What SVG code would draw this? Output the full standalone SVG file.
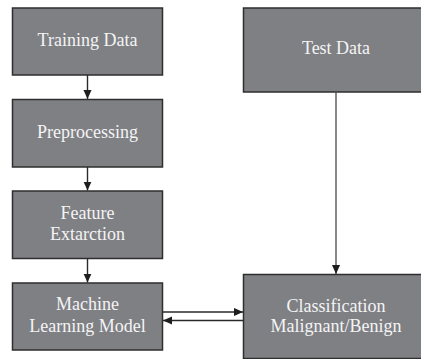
<svg xmlns="http://www.w3.org/2000/svg" width="421" height="359" viewBox="0 0 421 359">
<defs>
<style>
.box{fill:#7f8084;stroke:#2e2e2e;stroke-width:1.5}
.t{font-family:'Liberation Serif',serif;font-size:18px;fill:#f4f4f4;text-anchor:middle}
.c{stroke:#2a2a2a;stroke-width:1.4;fill:none}
</style>
<marker id="ah" viewBox="0 0 10 10" refX="10" refY="5" markerWidth="9" markerHeight="9" markerUnits="userSpaceOnUse" orient="auto">
<path d="M0,0.5 L10,5 L0,9.5 Z" fill="#1e1e1e"/>
</marker>
</defs>
<rect width="421" height="359" fill="#ffffff"/>
<g id="training">
<rect class="box" x="12.5" y="8" width="150" height="67"/>
<text class="t" x="87.5" y="46">Training Data</text>
</g>
<g id="preprocessing">
<rect class="box" x="12.5" y="99.5" width="150" height="67.5"/>
<text class="t" x="87.5" y="137.5">Preprocessing</text>
</g>
<g id="feature">
<rect class="box" x="12.5" y="191" width="150" height="67.5"/>
<text class="t" x="87.5" y="218.5">Feature</text>
<text class="t" x="87.5" y="240">Extarction</text>
</g>
<g id="ml">
<rect class="box" x="12.5" y="283" width="150" height="67"/>
<text class="t" x="87.5" y="310">Machine</text>
<text class="t" x="87.5" y="332">Learning Model</text>
</g>
<g id="test">
<rect class="box" x="243.5" y="8" width="186" height="84"/>
<text class="t" x="336" y="53.5">Test Data</text>
</g>
<g id="classification">
<rect class="box" x="243.5" y="274.5" width="186" height="84"/>
<text class="t" x="336" y="312">Classification</text>
<text class="t" x="336" y="332">Malignant/Benign</text>
</g>
<g id="connectors">
<line class="c" x1="87.5" y1="75" x2="87.5" y2="99" marker-end="url(#ah)"/>
<line class="c" x1="87.5" y1="167" x2="87.5" y2="190.5" marker-end="url(#ah)"/>
<line class="c" x1="87.5" y1="258.5" x2="87.5" y2="282.5" marker-end="url(#ah)"/>
<line class="c" x1="336" y1="92" x2="336" y2="274" marker-end="url(#ah)" style="stroke:#555"/>
<line class="c" x1="162.5" y1="312" x2="243" y2="312" marker-end="url(#ah)"/>
<line class="c" x1="243.5" y1="320.5" x2="163" y2="320.5" marker-end="url(#ah)"/>
</g>
</svg>
